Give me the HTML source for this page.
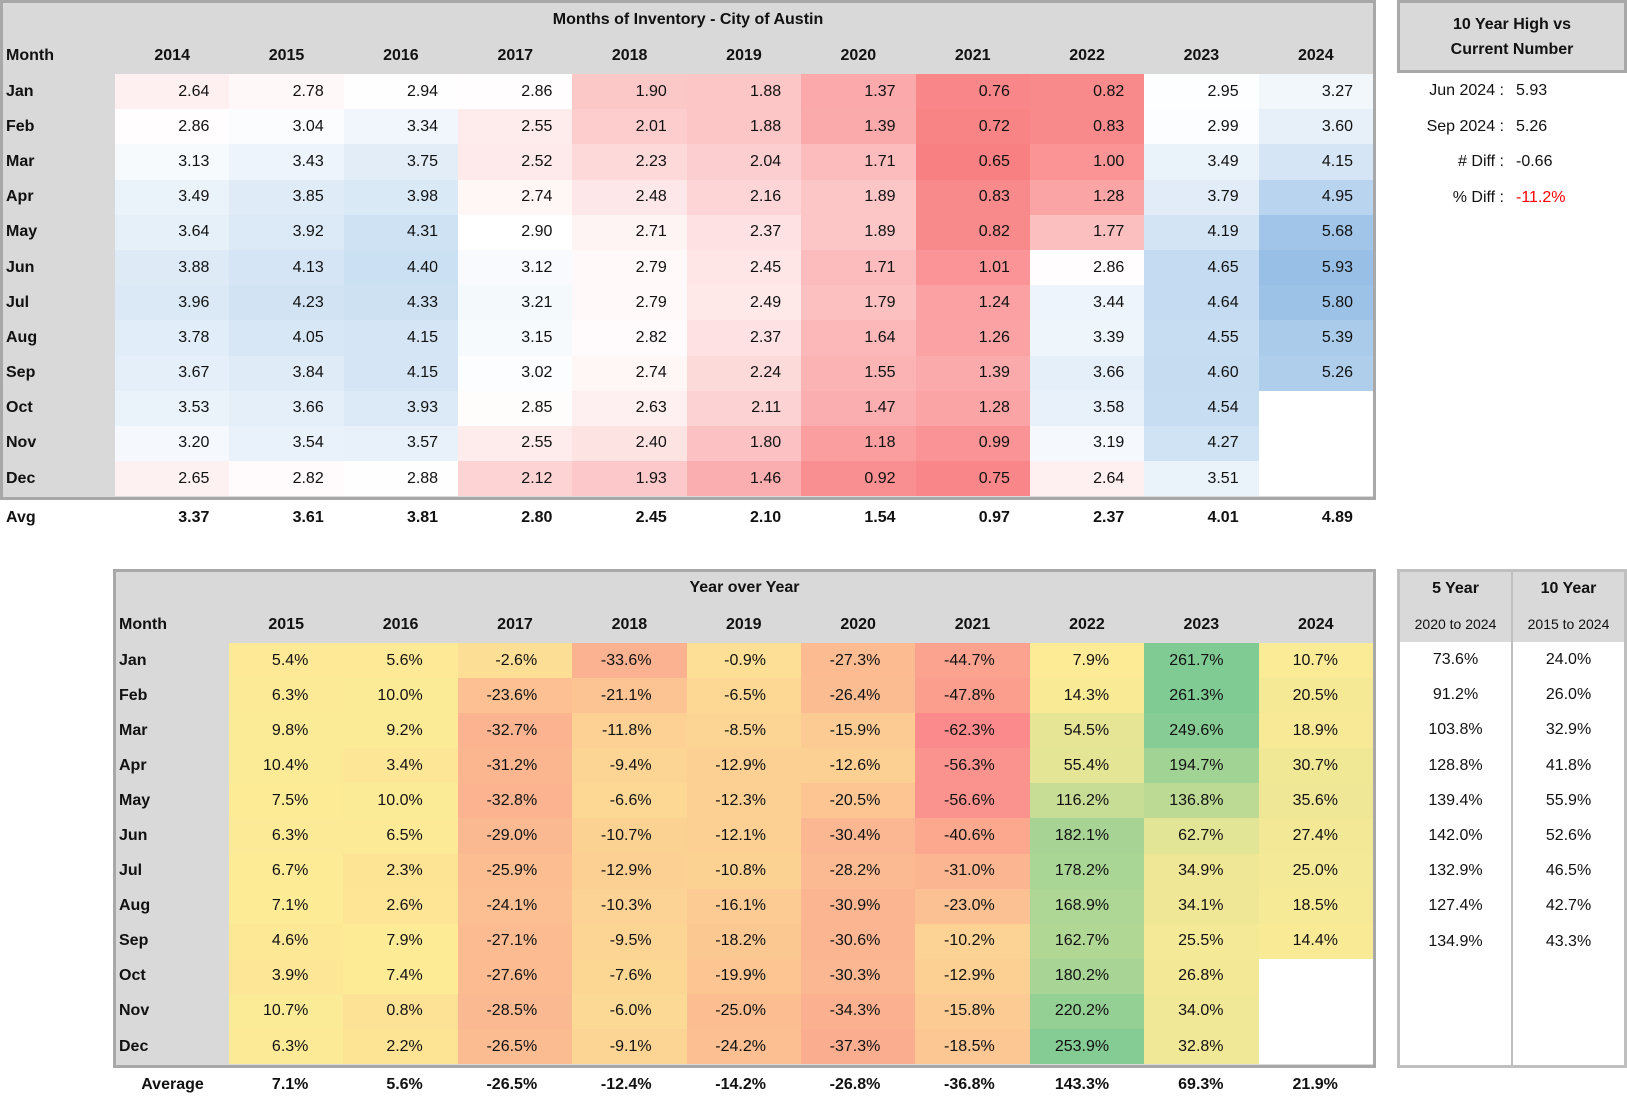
<!DOCTYPE html>
<html><head><meta charset="utf-8">
<style>
*{margin:0;padding:0;box-sizing:border-box}
body{width:1627px;height:1095px;background:#fff;font-family:"Liberation Sans",sans-serif;font-size:16px;color:#111;position:relative;overflow:hidden}
.box{position:absolute;border:3px solid #A8A8A8;background:#D9D9D9;overflow:hidden}
table{border-collapse:collapse;table-layout:fixed}
td{white-space:nowrap;padding:0;overflow:hidden}
.t1 td{height:35.2px;text-align:right;padding-right:20px}
.t1 td.m{text-align:left;padding-left:3px;font-weight:bold;background:#D9D9D9}
.t1 tr.h td{font-weight:bold;text-align:center;padding:0;height:36px;vertical-align:middle}
.t1 tr.h td.m{text-align:left;padding-left:3px}
.t2 td{height:35.1px;text-align:right;padding-right:35px}
.t2 td.m{text-align:left;padding-left:3px;font-weight:bold;background:#D9D9D9}
.t2 tr.h td{font-weight:bold;text-align:center;padding:0;height:37px}
.t2 tr.h td.m{text-align:left;padding-left:3px}
.title{font-weight:bold;text-align:center;font-size:16px}
.e{background:#fff}
.avg{position:absolute;font-weight:bold;display:flex}
.avg div{text-align:right}
</style></head><body>

<div class="box" style="left:0;top:0;width:1376px;height:500px">
<div class="title" style="height:35px;line-height:34px">Months of Inventory - City of Austin</div>
<table class="t1" style="width:1370px">
<colgroup><col style="width:112px"><col span="11" style="width:114.36px"></colgroup>
<tr class="h"><td class="m">Month</td><td>2014</td><td>2015</td><td>2016</td><td>2017</td><td>2018</td><td>2019</td><td>2020</td><td>2021</td><td>2022</td><td>2023</td><td>2024</td></tr>
<tr><td class="m">Jan</td><td class="v">2.64</td><td class="v">2.78</td><td class="v">2.94</td><td class="v">2.86</td><td class="v">1.90</td><td class="v">1.88</td><td class="v">1.37</td><td class="v">0.76</td><td class="v">0.82</td><td class="v">2.95</td><td class="v">3.27</td></tr>
<tr><td class="m">Feb</td><td class="v">2.86</td><td class="v">3.04</td><td class="v">3.34</td><td class="v">2.55</td><td class="v">2.01</td><td class="v">1.88</td><td class="v">1.39</td><td class="v">0.72</td><td class="v">0.83</td><td class="v">2.99</td><td class="v">3.60</td></tr>
<tr><td class="m">Mar</td><td class="v">3.13</td><td class="v">3.43</td><td class="v">3.75</td><td class="v">2.52</td><td class="v">2.23</td><td class="v">2.04</td><td class="v">1.71</td><td class="v">0.65</td><td class="v">1.00</td><td class="v">3.49</td><td class="v">4.15</td></tr>
<tr><td class="m">Apr</td><td class="v">3.49</td><td class="v">3.85</td><td class="v">3.98</td><td class="v">2.74</td><td class="v">2.48</td><td class="v">2.16</td><td class="v">1.89</td><td class="v">0.83</td><td class="v">1.28</td><td class="v">3.79</td><td class="v">4.95</td></tr>
<tr><td class="m">May</td><td class="v">3.64</td><td class="v">3.92</td><td class="v">4.31</td><td class="v">2.90</td><td class="v">2.71</td><td class="v">2.37</td><td class="v">1.89</td><td class="v">0.82</td><td class="v">1.77</td><td class="v">4.19</td><td class="v">5.68</td></tr>
<tr><td class="m">Jun</td><td class="v">3.88</td><td class="v">4.13</td><td class="v">4.40</td><td class="v">3.12</td><td class="v">2.79</td><td class="v">2.45</td><td class="v">1.71</td><td class="v">1.01</td><td class="v">2.86</td><td class="v">4.65</td><td class="v">5.93</td></tr>
<tr><td class="m">Jul</td><td class="v">3.96</td><td class="v">4.23</td><td class="v">4.33</td><td class="v">3.21</td><td class="v">2.79</td><td class="v">2.49</td><td class="v">1.79</td><td class="v">1.24</td><td class="v">3.44</td><td class="v">4.64</td><td class="v">5.80</td></tr>
<tr><td class="m">Aug</td><td class="v">3.78</td><td class="v">4.05</td><td class="v">4.15</td><td class="v">3.15</td><td class="v">2.82</td><td class="v">2.37</td><td class="v">1.64</td><td class="v">1.26</td><td class="v">3.39</td><td class="v">4.55</td><td class="v">5.39</td></tr>
<tr><td class="m">Sep</td><td class="v">3.67</td><td class="v">3.84</td><td class="v">4.15</td><td class="v">3.02</td><td class="v">2.74</td><td class="v">2.24</td><td class="v">1.55</td><td class="v">1.39</td><td class="v">3.66</td><td class="v">4.60</td><td class="v">5.26</td></tr>
<tr><td class="m">Oct</td><td class="v">3.53</td><td class="v">3.66</td><td class="v">3.93</td><td class="v">2.85</td><td class="v">2.63</td><td class="v">2.11</td><td class="v">1.47</td><td class="v">1.28</td><td class="v">3.58</td><td class="v">4.54</td><td class="e"></td></tr>
<tr><td class="m">Nov</td><td class="v">3.20</td><td class="v">3.54</td><td class="v">3.57</td><td class="v">2.55</td><td class="v">2.40</td><td class="v">1.80</td><td class="v">1.18</td><td class="v">0.99</td><td class="v">3.19</td><td class="v">4.27</td><td class="e"></td></tr>
<tr><td class="m">Dec</td><td class="v">2.65</td><td class="v">2.82</td><td class="v">2.88</td><td class="v">2.12</td><td class="v">1.93</td><td class="v">1.46</td><td class="v">0.92</td><td class="v">0.75</td><td class="v">2.64</td><td class="v">3.51</td><td class="e"></td></tr>
</table>
</div>
<div class="avg" style="left:0;top:500px;height:36px;line-height:36px">
<div style="width:115px;text-align:left;padding-left:6px">Avg</div>
<div style="width:114.36px;padding-right:20px">3.37</div><div style="width:114.36px;padding-right:20px">3.61</div><div style="width:114.36px;padding-right:20px">3.81</div><div style="width:114.36px;padding-right:20px">2.80</div><div style="width:114.36px;padding-right:20px">2.45</div><div style="width:114.36px;padding-right:20px">2.10</div><div style="width:114.36px;padding-right:20px">1.54</div><div style="width:114.36px;padding-right:20px">0.97</div><div style="width:114.36px;padding-right:20px">2.37</div><div style="width:114.36px;padding-right:20px">4.01</div><div style="width:114.36px;padding-right:20px">4.89</div>
</div>

<div class="box" style="left:1397px;top:0;width:230px;height:73px;padding-top:9px;font-weight:bold;text-align:center;line-height:25px">10 Year High vs<br>Current Number</div>
<div style="position:absolute;left:1397px;top:73px;width:230px;line-height:35.5px">
<div style="display:flex"><div style="width:107px;text-align:right">Jun 2024 :</div><div style="padding-left:12px">5.93</div></div>
<div style="display:flex"><div style="width:107px;text-align:right">Sep 2024 :</div><div style="padding-left:12px">5.26</div></div>
<div style="display:flex"><div style="width:107px;text-align:right"># Diff :</div><div style="padding-left:12px">-0.66</div></div>
<div style="display:flex"><div style="width:107px;text-align:right">% Diff :</div><div style="padding-left:12px;color:#FF0000">-11.2%</div></div>
</div>

<div class="box" style="left:113px;top:569px;width:1263px;height:499px">
<div class="title" style="height:34px;line-height:32px">Year over Year</div>
<table class="t2" style="width:1257px">
<colgroup><col style="width:113px"><col span="10" style="width:114.4px"></colgroup>
<tr class="h"><td class="m">Month</td><td>2015</td><td>2016</td><td>2017</td><td>2018</td><td>2019</td><td>2020</td><td>2021</td><td>2022</td><td>2023</td><td>2024</td></tr>
<tr><td class="m">Jan</td><td class="p">5.4%</td><td class="p">5.6%</td><td class="p">-2.6%</td><td class="p">-33.6%</td><td class="p">-0.9%</td><td class="p">-27.3%</td><td class="p">-44.7%</td><td class="p">7.9%</td><td class="p">261.7%</td><td class="p">10.7%</td></tr>
<tr><td class="m">Feb</td><td class="p">6.3%</td><td class="p">10.0%</td><td class="p">-23.6%</td><td class="p">-21.1%</td><td class="p">-6.5%</td><td class="p">-26.4%</td><td class="p">-47.8%</td><td class="p">14.3%</td><td class="p">261.3%</td><td class="p">20.5%</td></tr>
<tr><td class="m">Mar</td><td class="p">9.8%</td><td class="p">9.2%</td><td class="p">-32.7%</td><td class="p">-11.8%</td><td class="p">-8.5%</td><td class="p">-15.9%</td><td class="p">-62.3%</td><td class="p">54.5%</td><td class="p">249.6%</td><td class="p">18.9%</td></tr>
<tr><td class="m">Apr</td><td class="p">10.4%</td><td class="p">3.4%</td><td class="p">-31.2%</td><td class="p">-9.4%</td><td class="p">-12.9%</td><td class="p">-12.6%</td><td class="p">-56.3%</td><td class="p">55.4%</td><td class="p">194.7%</td><td class="p">30.7%</td></tr>
<tr><td class="m">May</td><td class="p">7.5%</td><td class="p">10.0%</td><td class="p">-32.8%</td><td class="p">-6.6%</td><td class="p">-12.3%</td><td class="p">-20.5%</td><td class="p">-56.6%</td><td class="p">116.2%</td><td class="p">136.8%</td><td class="p">35.6%</td></tr>
<tr><td class="m">Jun</td><td class="p">6.3%</td><td class="p">6.5%</td><td class="p">-29.0%</td><td class="p">-10.7%</td><td class="p">-12.1%</td><td class="p">-30.4%</td><td class="p">-40.6%</td><td class="p">182.1%</td><td class="p">62.7%</td><td class="p">27.4%</td></tr>
<tr><td class="m">Jul</td><td class="p">6.7%</td><td class="p">2.3%</td><td class="p">-25.9%</td><td class="p">-12.9%</td><td class="p">-10.8%</td><td class="p">-28.2%</td><td class="p">-31.0%</td><td class="p">178.2%</td><td class="p">34.9%</td><td class="p">25.0%</td></tr>
<tr><td class="m">Aug</td><td class="p">7.1%</td><td class="p">2.6%</td><td class="p">-24.1%</td><td class="p">-10.3%</td><td class="p">-16.1%</td><td class="p">-30.9%</td><td class="p">-23.0%</td><td class="p">168.9%</td><td class="p">34.1%</td><td class="p">18.5%</td></tr>
<tr><td class="m">Sep</td><td class="p">4.6%</td><td class="p">7.9%</td><td class="p">-27.1%</td><td class="p">-9.5%</td><td class="p">-18.2%</td><td class="p">-30.6%</td><td class="p">-10.2%</td><td class="p">162.7%</td><td class="p">25.5%</td><td class="p">14.4%</td></tr>
<tr><td class="m">Oct</td><td class="p">3.9%</td><td class="p">7.4%</td><td class="p">-27.6%</td><td class="p">-7.6%</td><td class="p">-19.9%</td><td class="p">-30.3%</td><td class="p">-12.9%</td><td class="p">180.2%</td><td class="p">26.8%</td><td class="e"></td></tr>
<tr><td class="m">Nov</td><td class="p">10.7%</td><td class="p">0.8%</td><td class="p">-28.5%</td><td class="p">-6.0%</td><td class="p">-25.0%</td><td class="p">-34.3%</td><td class="p">-15.8%</td><td class="p">220.2%</td><td class="p">34.0%</td><td class="e"></td></tr>
<tr><td class="m">Dec</td><td class="p">6.3%</td><td class="p">2.2%</td><td class="p">-26.5%</td><td class="p">-9.1%</td><td class="p">-24.2%</td><td class="p">-37.3%</td><td class="p">-18.5%</td><td class="p">253.9%</td><td class="p">32.8%</td><td class="e"></td></tr>
</table>
</div>
<div class="avg" style="left:116px;top:1068px;height:34px;line-height:34px">
<div style="width:113px;text-align:center">Average</div>
<div style="width:114.4px;padding-right:35px">7.1%</div><div style="width:114.4px;padding-right:35px">5.6%</div><div style="width:114.4px;padding-right:35px">-26.5%</div><div style="width:114.4px;padding-right:35px">-12.4%</div><div style="width:114.4px;padding-right:35px">-14.2%</div><div style="width:114.4px;padding-right:35px">-26.8%</div><div style="width:114.4px;padding-right:35px">-36.8%</div><div style="width:114.4px;padding-right:35px">143.3%</div><div style="width:114.4px;padding-right:35px">69.3%</div><div style="width:114.4px;padding-right:35px">21.9%</div>
</div>

<div style="position:absolute;left:1397px;top:569px;width:230px;height:499px;border:3px solid #BFBFBF;background:#fff">
<div style="position:absolute;left:0;top:0;width:224px;height:70px;background:#D9D9D9"></div>
<div style="position:absolute;left:111px;top:0;width:2px;height:493px;background:#BFBFBF"></div>
<div style="position:absolute;left:0;top:0;width:111px;text-align:center">
<div style="font-weight:bold;line-height:34px;height:34px">5 Year</div>
<div style="font-size:14px;line-height:36px;height:36px">2020 to 2024</div>
<div style="line-height:35.2px">73.6%<br>91.2%<br>103.8%<br>128.8%<br>139.4%<br>142.0%<br>132.9%<br>127.4%<br>134.9%</div>
</div>
<div style="position:absolute;left:113px;top:0;width:111px;text-align:center">
<div style="font-weight:bold;line-height:34px;height:34px">10 Year</div>
<div style="font-size:14px;line-height:36px;height:36px">2015 to 2024</div>
<div style="line-height:35.2px">24.0%<br>26.0%<br>32.9%<br>41.8%<br>55.9%<br>52.6%<br>46.5%<br>42.7%<br>43.3%</div>
</div>
</div>

<script>
function mix(a,b,t){return a.map((v,i)=>Math.round(v+(b[i]-v)*t));}
function rgb(c){return 'rgb('+c.join(',')+')';}
var R=[249,128,130],W=[255,255,255],B=[152,192,230];
document.querySelectorAll('.t1 td.v').forEach(function(td){
 var v=parseFloat(td.textContent),c;
 if(v<2.9)c=mix(R,W,(v-0.65)/(2.9-0.65));else c=mix(W,B,(v-2.9)/(5.93-2.9));
 td.style.background=rgb(c);
});
var Rd=[250,138,140],Y=[253,235,150],G=[128,202,148];
document.querySelectorAll('.t2 td.p').forEach(function(td){
 var v=parseFloat(td.textContent),c;
 if(v<7)c=mix(Rd,Y,(v+62.3)/(69.3));else c=mix(Y,G,(v-7)/(261.7-7));
 td.style.background=rgb(c);
});
</script>
</body></html>
